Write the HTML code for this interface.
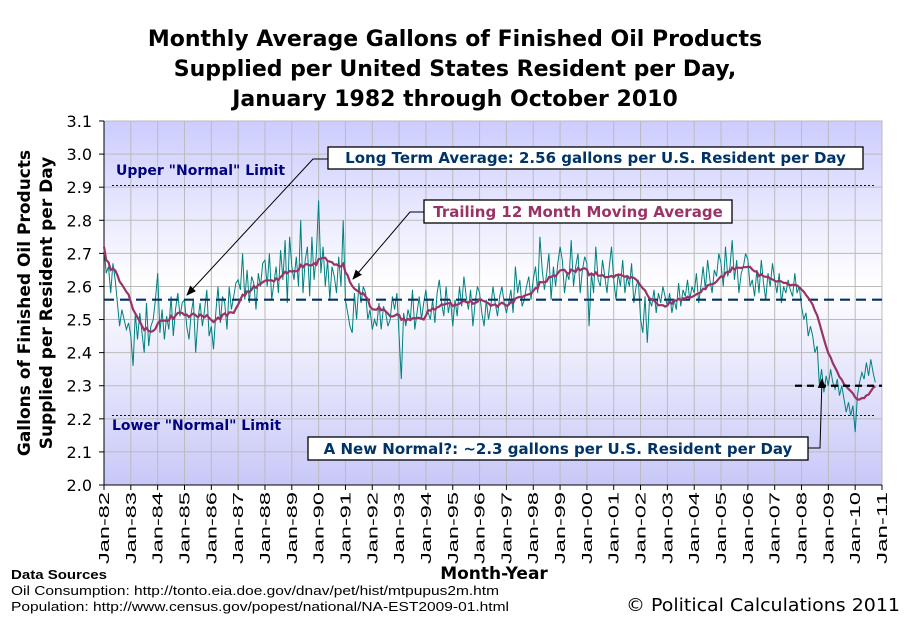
<!DOCTYPE html>
<html><head><meta charset="utf-8"><style>
body{margin:0;background:#fff;}
svg{display:block;font-family:"DejaVu Sans","Liberation Sans",sans-serif;}
</style></head><body>
<svg id="chart" width="911" height="623" viewBox="0 0 911 623">
<defs>
<linearGradient id="bg" x1="0" y1="0" x2="0" y2="1">
<stop offset="0" stop-color="#ccccff"/><stop offset="0.45" stop-color="#ffffff"/><stop offset="1" stop-color="#c8c8f8"/>
</linearGradient>
<marker id="ah" markerWidth="10" markerHeight="8" refX="9" refY="4" orient="auto"><path d="M0,0 L10,4 L0,8 z" fill="#000"/></marker>
</defs>
<g font-weight="bold" font-size="22" text-anchor="middle" fill="#000">
<text x="455" y="46">Monthly Average Gallons of Finished Oil Products</text>
<text x="455" y="76">Supplied per United States Resident per Day,</text>
<text x="455" y="106">January 1982 through October 2010</text>
</g>
<rect x="104" y="121" width="778" height="364" fill="url(#bg)" stroke="#888"/>
<g id="grid"></g>
<g id="axes"></g>
<g id="series"></g>
<g font-weight="bold" font-size="17" text-anchor="middle">
<text transform="translate(30,303) rotate(-90)">Gallons of Finished Oil Products</text>
<text transform="translate(52,303) rotate(-90)">Supplied per Resident per Day</text>
</g>
<text x="494" y="579" font-weight="bold" font-size="17" text-anchor="middle">Month-Year</text>
<g font-size="13" font-family="Liberation Sans, sans-serif">
<text x="11" y="579" font-weight="bold" textLength="96" lengthAdjust="spacingAndGlyphs">Data Sources</text>
<text x="11" y="595" textLength="488" lengthAdjust="spacingAndGlyphs">Oil Consumption: http://tonto.eia.doe.gov/dnav/pet/hist/mtpupus2m.htm</text>
<text x="11" y="611" textLength="498" lengthAdjust="spacingAndGlyphs">Population:  http://www.census.gov/popest/national/NA-EST2009-01.html</text>
</g>
<text x="900" y="611" font-size="18" text-anchor="end" textLength="274" lengthAdjust="spacingAndGlyphs">© Political Calculations 2011</text>
</svg>
<script>
const years=[1982,1983,1984,1985,1986,1987,1988,1989,1990,1991,1992,1993,1994,1995,1996,1997,1998,1999,2000,2001,2002,2003,2004,2005,2006,2007,2008,2009,2010,2011];
const yTicks=[2.0,2.1,2.2,2.3,2.4,2.5,2.6,2.7,2.8,2.9,3.0,3.1];
const gallons=[
2.72,2.64,2.66,2.58,2.67,2.62,2.55,2.48,2.53,2.50,2.47,2.49,
2.45,2.36,2.52,2.44,2.52,2.46,2.40,2.55,2.42,2.48,2.50,2.56,
2.64,2.46,2.53,2.44,2.51,2.47,2.57,2.45,2.53,2.58,2.51,2.55,
2.56,2.48,2.44,2.52,2.56,2.40,2.50,2.55,2.48,2.53,2.59,2.45,
2.48,2.41,2.52,2.60,2.49,2.57,2.55,2.47,2.60,2.53,2.57,2.61,
2.62,2.59,2.70,2.56,2.65,2.55,2.63,2.61,2.53,2.64,2.60,2.67,
2.68,2.60,2.70,2.56,2.61,2.66,2.58,2.71,2.62,2.74,2.55,2.75,
2.66,2.62,2.69,2.60,2.80,2.58,2.68,2.72,2.57,2.75,2.62,2.70,
2.86,2.64,2.72,2.60,2.68,2.56,2.66,2.63,2.58,2.69,2.60,2.80,
2.56,2.52,2.48,2.46,2.58,2.50,2.61,2.55,2.60,2.58,2.50,2.53,
2.47,2.50,2.48,2.55,2.47,2.54,2.52,2.48,2.50,2.57,2.53,2.58,
2.45,2.32,2.52,2.48,2.53,2.50,2.59,2.47,2.52,2.57,2.50,2.55,
2.59,2.52,2.50,2.56,2.49,2.58,2.62,2.55,2.51,2.60,2.52,2.56,
2.48,2.56,2.51,2.60,2.54,2.63,2.57,2.53,2.59,2.48,2.55,2.60,
2.58,2.52,2.48,2.56,2.50,2.54,2.60,2.55,2.51,2.57,2.60,2.55,
2.52,2.55,2.59,2.52,2.66,2.58,2.62,2.54,2.56,2.60,2.63,2.56,
2.62,2.66,2.58,2.75,2.65,2.59,2.64,2.70,2.56,2.66,2.60,2.67,
2.72,2.68,2.58,2.64,2.62,2.74,2.60,2.66,2.70,2.58,2.65,2.69,
2.67,2.48,2.64,2.58,2.72,2.62,2.60,2.68,2.63,2.58,2.66,2.72,
2.62,2.56,2.64,2.60,2.68,2.58,2.63,2.60,2.67,2.55,2.60,2.62,
2.50,2.46,2.57,2.43,2.56,2.54,2.59,2.52,2.58,2.55,2.60,2.57,
2.54,2.58,2.52,2.56,2.53,2.61,2.54,2.59,2.57,2.62,2.56,2.60,
2.58,2.64,2.55,2.60,2.66,2.59,2.68,2.62,2.58,2.65,2.63,2.70,
2.67,2.60,2.72,2.63,2.66,2.74,2.62,2.68,2.58,2.64,2.66,2.70,
2.68,2.60,2.62,2.57,2.65,2.58,2.68,2.61,2.56,2.64,2.60,2.67,
2.62,2.58,2.64,2.55,2.60,2.58,2.62,2.59,2.57,2.64,2.58,2.60,
2.54,2.50,2.52,2.45,2.48,2.45,2.40,2.42,2.30,2.35,2.28,2.33,
2.30,2.35,2.31,2.29,2.32,2.27,2.30,2.26,2.22,2.25,2.21,2.24,
2.16,2.27,2.31,2.34,2.32,2.37,2.33,2.38,2.34,2.31];
const refLevels=[2.56,2.905,2.21,2.30];

const NS="http://www.w3.org/2000/svg";
const X0=104,X1=882,Y0=485,Y1=121,YMIN=2.0,YMAX=3.1;
function xm(i){return X0+i*(X1-X0)/((years.length-1)*12);}
function yv(v){return Y0-(v-YMIN)/(YMAX-YMIN)*(Y0-Y1);}
function mk(tag,attrs,parent,txt){const e=document.createElementNS(NS,tag);for(const k in attrs)e.setAttribute(k,attrs[k]);if(txt!==undefined)e.textContent=txt;parent.appendChild(e);return e;}
const grid=document.getElementById('grid'),axes=document.getElementById('axes'),ser=document.getElementById('series');
years.forEach((y,k)=>{const x=xm(k*12);
 const g=mk('line',{x1:x,x2:x,y1:Y1,y2:Y0,stroke:'#bbb','stroke-width':1},grid);
 
 
 const t=mk('line',{x1:x,x2:x,y1:Y0,y2:Y0+5,stroke:'#000'},axes);
 
 
 const lb=mk('text',{transform:`translate(${x+5},492) rotate(-90)`,'text-anchor':'end','font-size':'15','font-family':'Liberation Sans, sans-serif',textLength:'72',lengthAdjust:'spacingAndGlyphs'},axes,'Jan-'+String(y).slice(2));
 
 
});
yTicks.forEach(v=>{const y=yv(v);
 const g=mk('line',{x1:X0,x2:X1,y1:y,y2:y,stroke:'#bbb'},grid);
 
 
 const t=mk('line',{x1:X0-5,x2:X0,y1:y,y2:y,stroke:'#000'},axes);
 
 
 const lb=mk('text',{x:92,y:y+6,'text-anchor':'end','font-size':'16'},axes,v.toFixed(1));
 
 
});
mk('line',{x1:X0,x2:X0,y1:Y1,y2:Y0,stroke:'#000'},axes);
mk('line',{x1:X0,x2:X1,y1:Y0,y2:Y0,stroke:'#000'},axes);
let r=mk('line',{x1:X0+8,x2:X1-6,y1:yv(refLevels[1]),y2:yv(refLevels[1]),stroke:'#000080','stroke-dasharray':'2,2'},ser);


r=mk('line',{x1:X0+8,x2:X1-6,y1:yv(refLevels[2]),y2:yv(refLevels[2]),stroke:'#000080','stroke-dasharray':'2,2'},ser);


let d='';gallons.forEach((v,i)=>{d+=(i?'L':'M')+xm(i).toFixed(1)+','+yv(v).toFixed(1);});
r=mk('path',{d:d,fill:'none',stroke:'#008080','stroke-width':1},ser);


r=mk('line',{x1:X0,x2:X1,y1:yv(refLevels[0]),y2:yv(refLevels[0]),stroke:'#003366','stroke-width':2.2,'stroke-dasharray':'10,6'},ser);


let md='';gallons.forEach((v,i)=>{const s=gallons.slice(Math.max(0,i-11),i+1);const m=s.reduce((a,b)=>a+b,0)/s.length;md+=(i?'L':'M')+xm(i).toFixed(1)+','+yv(m).toFixed(1);});
r=mk('path',{d:md,fill:'none',stroke:'#993366','stroke-width':2.2},ser);


r=mk('line',{x1:795,x2:X1,y1:yv(refLevels[3]),y2:yv(refLevels[3]),stroke:'#000','stroke-width':2.2,'stroke-dasharray':'7,5'},ser);


r=mk('text',{x:116,y:175,'font-size':'14','font-weight':'bold',fill:'#000080'},ser,'Upper "Normal" Limit');


r=mk('text',{x:112,y:430,'font-size':'14','font-weight':'bold',fill:'#000080'},ser,'Lower "Normal" Limit');


function ann(name,bx,by,bw,bh,txt,color,pts){
 const g=mk('g',{},ser);
 
 
 mk('polyline',{points:pts,fill:'none',stroke:'#000','stroke-width':1,'marker-end':'url(#ah)'},g);
 mk('rect',{x:bx,y:by,width:bw,height:bh,fill:'#fff',stroke:'#000','stroke-width':1.3},g);
 mk('text',{x:bx+bw/2,y:by+bh-6,'text-anchor':'middle','font-size':'15','font-weight':'bold',fill:color},g,txt);
}
ann('long-term-average-annotation',328,147,535,22,'Long Term Average: 2.56 gallons per U.S. Resident per Day','#003366','328,159 313,159 187,295');
ann('moving-average-annotation',424,200,308,23,'Trailing 12 Month Moving Average','#993366','424,212 410,212 353,279');
ann('new-normal-annotation',308,437,500,23,'A New Normal?: ~2.3 gallons per U.S. Resident per Day','#003366','808,448 820,448 822,379');
</script>
</body></html>
